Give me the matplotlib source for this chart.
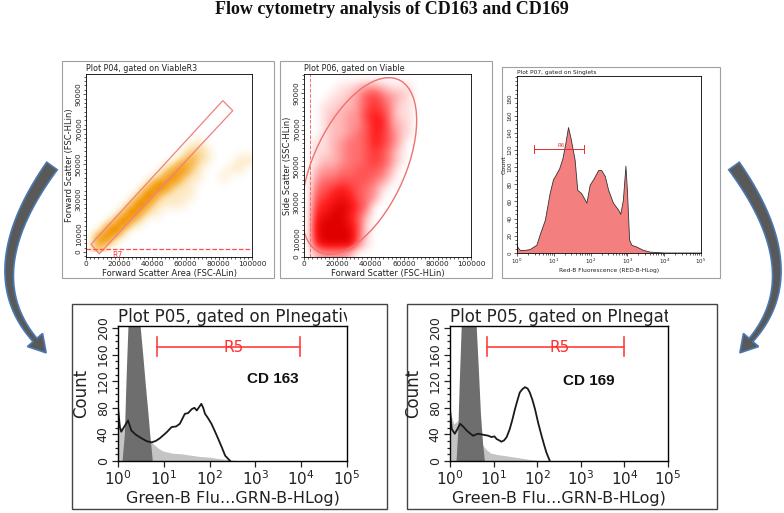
import numpy as np
import matplotlib
matplotlib.use('Agg')
import matplotlib.pyplot as plt
from matplotlib.colors import LinearSegmentedColormap
from matplotlib.patches import Rectangle, Ellipse, Polygon
from matplotlib.ticker import MultipleLocator, LogLocator, NullFormatter
from matplotlib.transforms import Bbox, TransformedBbox

# ---------------- data ----------------
TITLE = "Flow cytometry analysis of CD163 and CD169"

# P04: FSC-Area vs FSC-H density (rows top -> bottom, 20 cells of 5000 each, intensity 0-9)
P1_DENSITY = [
    "", "", "", "", "", "", "",
    "00000000000001",
    "000000000000221",
    "00000000000242100011",
    "00000000013731000110",
    "00000000148311001",
    "0000000287211",
    "0000002941111",
    "000002941111",
    "000029411",
    "0003931",
    "00592",
    "0671",
    "03",
]
P1_GATE = [(3000, 4400), (8000, -1000), (88400, 80600), (82400, 86300)]
P1_R7_Y = 1500

# P06: FSC-H vs SSC-H density
P2_DENSITY = [
    "",
    "0000112332111",
    "0001123564321",
    "0011223565311",
    "0012233676311",
    "0012233577321",
    "0012234576421",
    "0112344576420",
    "011234456531",
    "012234456531",
    "02334455542",
    "03445555431",
    "0456765431",
    "056787543",
    "06789864",
    "07899752",
    "08999851",
    "08999951",
    "07999941",
    "023332",
]
P2_ELLIPSE = dict(center=(33000, 50000), width=106000, height=54000, angle=62)
P2_GATE_X = 3400

# P07: Red-B fluorescence histogram (x in decades)
P3_LOGX = [0, 0.03, 0.09, 0.22, 0.36, 0.54, 0.63, 0.77, 0.90, 0.99, 1.07, 1.16, 1.25,
           1.33, 1.40, 1.47, 1.58, 1.65, 1.76, 1.90, 1.99, 2.08, 2.22, 2.30, 2.40,
           2.49, 2.62, 2.76, 2.82, 2.89, 2.96, 3.00, 3.06, 3.12, 3.25, 3.44, 3.62, 4.0, 5.0]
P3_COUNT = [10, 6, 3, 3, 4, 9, 21, 38, 69, 85, 91, 98, 110,
            128, 146, 133, 108, 73, 69, 58, 79, 85, 96, 96, 89,
            73, 58, 50, 45, 61, 101, 73, 15, 9, 7, 3, 1, 0, 0]
P3_GATE = (10 ** 0.45, 10 ** 1.81, 121)

# P05 CD163
CD163_LOGX = [0, 0.04, 0.07, 0.14, 0.22, 0.29, 0.38, 0.47, 0.62, 0.73, 0.82, 0.91, 1.06,
              1.17, 1.27, 1.35, 1.46, 1.53, 1.61, 1.67, 1.72, 1.78, 1.82, 1.86, 1.90,
              1.97, 2.04, 2.12, 2.19, 2.27, 2.34, 2.45]
CD163_COUNT = [81, 51, 44, 52, 61, 46, 40, 36, 30, 28, 30, 34, 43,
               51, 52, 56, 71, 72, 78, 80, 76, 82, 86, 80, 71,
               64, 56, 44, 33, 20, 8, 0]
CTRL1_LIGHT_LOGX = [0, 0.03, 0.08, 0.15, 0.2, 0.3, 0.5, 0.62, 0.7, 0.78, 0.9, 1.0, 1.2,
                    1.4, 1.6, 1.8, 2.0, 2.2, 2.45, 2.6]
CTRL1_LIGHT_COUNT = [82, 60, 48, 50, 60, 80, 60, 40, 32, 25, 18, 14, 11, 10, 8, 6, 5, 3, 1, 0]
CTRL1_DARK_LOGX = [0.10, 0.15, 0.19, 0.23, 0.30, 0.40, 0.49, 0.55, 0.60, 0.66, 0.71, 0.76]
CTRL1_DARK_COUNT = [0, 40, 130, 205, 250, 260, 205, 160, 120, 75, 35, 0]

# P05 CD169
CD169_LOGX = [0, 0.04, 0.11, 0.17, 0.23, 0.30, 0.38, 0.45, 0.53, 0.60, 0.65, 0.72, 0.80,
              0.88, 0.95, 1.02, 1.07, 1.13, 1.18, 1.24, 1.30, 1.37, 1.43, 1.49, 1.55,
              1.60, 1.66, 1.72, 1.78, 1.83, 1.89, 1.95, 2.02, 2.10, 2.16, 2.21, 2.29]
CD169_COUNT = [76, 48, 41, 48, 56, 52, 46, 42, 38, 40, 41, 40, 39,
               38, 36, 37, 33, 31, 29, 31, 36, 48, 62, 78, 92,
               103, 108, 111, 109, 103, 92, 78, 58, 38, 24, 13, 0]
CTRL2_LIGHT_LOGX = [0, 0.04, 0.1, 0.2, 0.3, 0.5, 0.65, 0.76, 0.85, 0.95, 1.1, 1.3, 1.5, 1.7, 1.9, 2.05]
CTRL2_LIGHT_COUNT = [90, 68, 55, 60, 70, 60, 40, 23, 16, 11, 9, 7, 5, 3, 1, 0]
CTRL2_DARK_LOGX = [0.15, 0.19, 0.23, 0.27, 0.35, 0.45, 0.55, 0.61, 0.66, 0.71, 0.76, 0.80]
CTRL2_DARK_COUNT = [0, 45, 130, 205, 255, 265, 235, 205, 140, 70, 25, 0]

R5_GATE = (7, 9600, 172)

TXT = '#222222'

# ---------------- figure ----------------
W, H = 784, 513
fig = plt.figure(figsize=(W / 100, H / 100), dpi=100)


def fax(x0, y0, x1, y1):
    return fig.add_axes([x0 / W, 1 - y1 / H, (x1 - x0) / W, (y1 - y0) / H])


def grid(rows):
    return np.array([[int(c) for c in r.ljust(20, '0')] for r in rows], dtype=float)


ov = fig.add_axes([0, 0, 1, 1])
ov.set_xlim(0, W)
ov.set_ylim(H, 0)
ov.axis('off')

ov.text(392, 10, TITLE, ha='center', va='center', fontfamily='Liberation Serif',
        fontweight='bold', fontsize=13, color='#111111')

# frames
for (x0, y0, x1, y1, ec, lw) in [(62, 61, 274, 278, '#a0a0a0', 0.8),
                                  (280, 61, 492, 278, '#a0a0a0', 0.8),
                                  (502, 67, 720, 278, '#a0a0a0', 0.8),
                                  (72, 304, 387, 509, '#444444', 1.0),
                                  (407, 304, 717, 509, '#444444', 1.0)]:
    ov.add_patch(Rectangle((x0, y0), x1 - x0, y1 - y0, fill=False, ec=ec, lw=lw))


def curved_arrow(ax, p0, p1, p2, w0, w1, hw, hl, **kw):
    t = np.linspace(0, 1, 80)
    P0, P1, P2 = (np.array(p, float) for p in (p0, p1, p2))
    B = ((1 - t) ** 2)[:, None] * P0 + (2 * t * (1 - t))[:, None] * P1 + (t ** 2)[:, None] * P2
    D = (2 * (1 - t))[:, None] * (P1 - P0) + (2 * t)[:, None] * (P2 - P1)
    D /= np.linalg.norm(D, axis=1)[:, None]
    N = np.stack([-D[:, 1], D[:, 0]], axis=1)
    w = (w0 + (w1 - w0) * t)[:, None] / 2
    left, right = B + N * w, B - N * w
    tip = P2 + D[-1] * hl
    hb1 = P2 + N[-1] * hw / 2
    hb2 = P2 - N[-1] * hw / 2
    pts = np.vstack([left, hb1[None], tip[None], hb2[None], right[::-1]])
    ax.add_patch(Polygon(pts, closed=True, **kw))


akw = dict(fc='#595959', ec='#4a78b0', lw=1.2)
curved_arrow(ov, (52, 166), (-24, 272), (35, 340), 13, 5, 20, 17, **akw)
curved_arrow(ov, (734, 166), (810, 272), (751, 340), 13, 5, 20, 17, **akw)


def style_small(ax, fs, lw=0.6):
    for s in ax.spines.values():
        s.set_linewidth(lw)
    ax.tick_params(which='both', direction='out', labelsize=fs, width=0.5, pad=1,
                   colors=TXT)
    ax.tick_params(which='major', length=2)
    ax.tick_params(which='minor', length=1.2)
    for lab in ax.get_yticklabels():
        lab.set_rotation(90)
        lab.set_va('center')


# ---- P04 ----
a1 = fax(86, 74, 252, 257)
cmap_o = LinearSegmentedColormap.from_list(
    'o', [(0, '#ffffff'), (0.12, '#fdebc8'), (0.35, '#f9c060'), (0.7, '#f29a10'), (1, '#e07a00')])
a1.imshow(grid(P1_DENSITY), extent=[0, 100000, 0, 100000], origin='upper', cmap=cmap_o,
          vmin=0, vmax=8, interpolation='bicubic', aspect='auto')
a1.add_patch(Polygon(P1_GATE, closed=True, fill=False, ec='#f08080', lw=0.9))
a1.axhline(P1_R7_Y, color='#ff4d4d', ls='--', lw=0.9)
a1.text(16000, P1_R7_Y - 700, 'R7', color='#f04040', fontsize=5.5, va='top')
a1.set_xlim(0, 100000)
a1.set_ylim(-2800, 101500)
a1.set_xticks([0, 20000, 40000, 60000, 80000, 100000])
a1.set_yticks([0, 10000, 30000, 50000, 70000, 90000])
a1.xaxis.set_minor_locator(MultipleLocator(2500))
a1.yaxis.set_minor_locator(MultipleLocator(2500))
style_small(a1, 5.3)
a1.set_xlabel('Forward Scatter Area (FSC-ALin)', fontsize=6, labelpad=1, color=TXT)
a1.set_ylabel('Forward Scatter (FSC-HLin)', fontsize=6, labelpad=1, color=TXT)
a1.text(0, 1.004, 'Plot P04, gated on ViableR3', transform=a1.transAxes, fontsize=5.8,
        va='bottom', ha='left', color=TXT)

# ---- P06 ----
a2 = fax(304, 74, 471, 257)
cmap_r = LinearSegmentedColormap.from_list(
    'r', [(0, '#ffffff'), (0.12, '#ffdada'), (0.45, '#ff7070'), (0.75, '#ff2020'), (1, '#e00000')])
a2.imshow(grid(P2_DENSITY), extent=[0, 100000, 0, 100000], origin='upper', cmap=cmap_r,
          vmin=0, vmax=9, interpolation='bicubic', aspect='auto')
a2.add_patch(Ellipse(P2_ELLIPSE['center'], P2_ELLIPSE['width'], P2_ELLIPSE['height'],
                     angle=P2_ELLIPSE['angle'], fill=False, ec='#f07070', lw=1.0))
a2.axvline(P2_GATE_X, color='#f07070', ls='--', lw=0.7)
a2.set_xlim(0, 100000)
a2.set_ylim(0, 100500)
a2.set_xticks([0, 20000, 40000, 60000, 80000, 100000])
a2.set_yticks([0, 10000, 30000, 50000, 70000, 90000])
a2.xaxis.set_minor_locator(MultipleLocator(2500))
a2.yaxis.set_minor_locator(MultipleLocator(2500))
style_small(a2, 5.3)
a2.set_xlabel('Forward Scatter (FSC-HLin)', fontsize=6, labelpad=1, color=TXT)
a2.set_ylabel('Side Scatter (SSC-HLin)', fontsize=6, labelpad=1, color=TXT)
a2.text(0, 1.004, 'Plot P06, gated on Viable', transform=a2.transAxes, fontsize=5.8,
        va='bottom', ha='left', color=TXT)

# ---- P07 ----
a3 = fax(517, 76, 701, 253)
x3 = 10 ** np.array(P3_LOGX)
a3.fill_between(x3, 0, P3_COUNT, facecolor='#f37f7f', edgecolor='none')
a3.plot(x3, P3_COUNT, color='#333333', lw=0.6)
g0, g1, gy = P3_GATE
a3.plot([g0, g1], [gy, gy], color='#e03030', lw=0.7)
a3.plot([g0, g0], [gy - 5, gy + 5], color='#e03030', lw=0.7)
a3.plot([g1, g1], [gy - 5, gy + 5], color='#e03030', lw=0.7)
a3.text(10 ** 1.2, gy + 1, 'R6', color='#e03030', fontsize=4, ha='center', va='bottom')
a3.set_xscale('log')
a3.set_xlim(1, 1e5)
a3.set_ylim(0, 206)
a3.set_xticks([1, 10, 100, 1e3, 1e4, 1e5])
a3.set_xticklabels([r'$10^{%d}$' % i for i in range(6)])
a3.xaxis.set_minor_locator(LogLocator(base=10, subs=np.arange(2, 10)))
a3.xaxis.set_minor_formatter(NullFormatter())
a3.set_yticks(range(0, 181, 20))
a3.yaxis.set_minor_locator(MultipleLocator(5))
style_small(a3, 4)
a3.set_xlabel('Red-B Fluorescence (RED-B-HLog)', fontsize=4.2, labelpad=1, color=TXT)
a3.set_ylabel('Count', fontsize=4.5, labelpad=1, color=TXT)
a3.text(0, 1.004, 'Plot P07, gated on Singlets', transform=a3.transAxes, fontsize=4.2,
        va='bottom', ha='left', color=TXT)


# ---- P05 panels ----
def bottom_panel(box, lx, cnt, llx, lc, dlx, dc, label, label_lx, label_y):
    x0, y0, x1, y1 = box
    ax = fax(x0, y0, x1, y1)
    ax.fill_between(10 ** np.array(llx), 0, lc, facecolor='#c4c4c4', edgecolor='none')
    ax.fill_between(10 ** np.array(dlx), 0, dc, facecolor='#6e6e6e', edgecolor='none')
    ax.plot(10 ** np.array(lx), cnt, color='#1a1a1a', lw=1.3)
    r0, r1, ry = R5_GATE
    ax.plot([r0, r1], [ry, ry], color='#ff4040', lw=1.2)
    ax.plot([r0, r0], [ry - 14, ry + 14], color='#ff4040', lw=1.2)
    ax.plot([r1, r1], [ry - 14, ry + 14], color='#ff4040', lw=1.2)
    ax.text(10 ** 2.52, ry - 2, 'R5', color='#ff3030', fontsize=11, ha='center', va='center')
    ax.text(10 ** label_lx, label_y, label, fontfamily='Liberation Sans', fontweight='bold',
            fontsize=11, ha='center', va='center', color='#111111')
    ax.set_xscale('log')
    ax.set_xlim(1, 1e5)
    ax.set_ylim(0, 203)
    ax.set_xticks([1, 10, 100, 1e3, 1e4, 1e5])
    ax.set_xticklabels([r'$10^{%d}$' % i for i in range(6)])
    ax.xaxis.set_minor_locator(LogLocator(base=10, subs=np.arange(2, 10)))
    ax.xaxis.set_minor_formatter(NullFormatter())
    ax.set_yticks([0, 40, 80, 120, 160, 200])
    ax.yaxis.set_minor_locator(MultipleLocator(10))
    for s in ax.spines.values():
        s.set_linewidth(1.0)
    ax.tick_params(which='both', direction='out', colors=TXT, width=0.9, pad=2)
    ax.tick_params(which='major', length=4)
    ax.tick_params(which='minor', length=2.5)
    ax.tick_params(axis='x', labelsize=11)
    ax.tick_params(axis='y', labelsize=9)
    for lab in ax.get_yticklabels():
        lab.set_rotation(90)
        lab.set_va('center')
    ax.set_xlabel('Green-B Flu...GRN-B-HLog)', fontsize=11.5, labelpad=2, color=TXT)
    ax.set_ylabel('Count', fontsize=12, labelpad=5, color=TXT)
    t = fig.text(x0 / W, 1 - 322 / H, 'Plot P05, gated on PInegative', fontsize=12,
                 va='baseline', ha='left', color=TXT)
    t.set_clip_box(TransformedBbox(Bbox([[0, 0], [x1 / W, 1]]), fig.transFigure))
    return ax


bottom_panel((118, 326, 347, 461), CD163_LOGX, CD163_COUNT, CTRL1_LIGHT_LOGX, CTRL1_LIGHT_COUNT,
             CTRL1_DARK_LOGX, CTRL1_DARK_COUNT, 'CD 163', 3.38, 123)
bottom_panel((450, 326, 668, 461), CD169_LOGX, CD169_COUNT, CTRL2_LIGHT_LOGX, CTRL2_LIGHT_COUNT,
             CTRL2_DARK_LOGX, CTRL2_DARK_COUNT, 'CD 169', 3.18, 121)

fig.savefig('out.png', dpi=100)
